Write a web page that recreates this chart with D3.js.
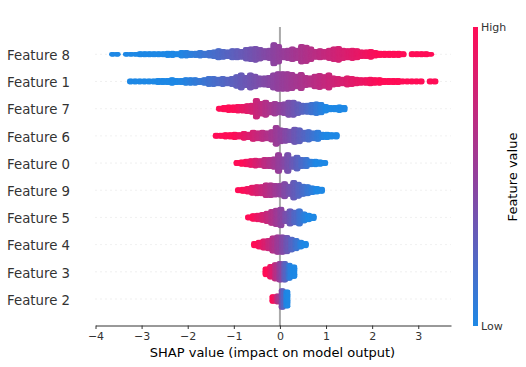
<!DOCTYPE html>
<html>
<head>
<meta charset="utf-8">
<script src="https://cdn.jsdelivr.net/npm/d3@7"></script>
<style>
    html, body { margin: 0; padding: 0; background: #fff; }
    text { font-family: "DejaVu Sans", sans-serif; }
</style>
</head>
<body>
<svg id="chart" width="526" height="367"></svg>
<script>
// Rows from top to bottom
const featureNames = ["Feature 8", "Feature 1", "Feature 7", "Feature 6", "Feature 0",
    "Feature 9", "Feature 5", "Feature 4", "Feature 3", "Feature 2"];

// SHAP value of the first bin in each row, bins are 0.1 wide
const binStart = [-3.63, -3.24, -1.31, -1.38, -0.93, -0.9, -0.68, -0.55, -0.3, -0.15];
const binWidth = 0.1;

// Number of stacked points in each bin
const binCounts = [
    [1,1,0,1,1,1,2,2,2,2,2,2,3,3,2,4,4,3,3,4,3,4,5,7,6,5,7,7,6,9,10,11,9,7,8,17,14,7,8,10,8,14,13,10,6,7,6,8,10,11,8,7,8,7,5,5,6,4,3,3,3,3,3,2,0,2,2,2,2,1],
    [2,2,2,2,2,2,3,3,3,4,3,3,4,4,4,3,4,6,6,5,6,5,6,9,12,8,12,10,7,7,8,12,14,14,14,13,10,13,8,7,10,11,9,12,7,6,5,7,6,5,4,4,5,4,4,3,3,3,3,2,2,2,2,2,0,2,2],
    [2,3,4,4,5,5,6,7,15,10,12,8,10,8,9,12,12,9,7,7,8,9,8,5,3,3,4,3],
    [2,2,3,3,4,3,5,4,7,6,7,6,8,15,11,10,9,12,11,7,8,6,7,4,4,3,3],
    [2,3,4,5,6,5,7,7,8,15,8,15,8,11,7,7,4,4,3,2],
    [2,3,4,6,7,7,10,10,9,9,12,8,14,11,8,7,5,4,3],
    [2,4,5,6,8,11,13,15,8,12,10,12,7,5,3],
    [3,5,7,8,12,14,14,13,10,8,5,3],
    [6,10,13,15,15,12,9],
    [5,6,15,13]
];

// SHAP value where the colour saturates, the sign says which side is high
const colorSpan = [2.2, 2.2, -1, -1, -0.8, -0.8, -0.6, -0.5, -0.25, -0.15];

const xTicks = [-4, -3, -2, -1, 0, 1, 2, 3];

const blue = "#1e88e5";
const purple = "#93409c";
const red = "#ff0d57";

let svg = d3.select("#chart");

let xScale = d3.scaleLinear().domain([-4, 3.71]).range([95.5, 451]);
let yScale = d3.scalePoint().domain(featureNames).range([54.3, 299]);
let colorScale = d3.scaleLinear().domain([0, 0.5, 1]).range([blue, purple, red]).clamp(true);

const plotTop = 27;
const plotBottom = 326;
const dotRadius = 2.4;
const stackStep = 1.2;

// Dotted row guides
svg.append("g").selectAll("line")
    .data(featureNames)
    .enter()
    .append("line")
    .attr("x1", xScale.range()[0])
    .attr("x2", xScale.range()[1])
    .attr("y1", d => yScale(d))
    .attr("y2", d => yScale(d))
    .attr("stroke", "#cccccc")
    .attr("stroke-width", 0.6)
    .attr("stroke-dasharray", "1 4");

// Zero line
svg.append("line")
    .attr("x1", xScale(0))
    .attr("x2", xScale(0))
    .attr("y1", plotTop)
    .attr("y2", plotBottom)
    .attr("stroke", "#aaaaaa")
    .attr("stroke-width", 2);

// Expand the bins to points, each stack is spread a little inside its bin
let points = [];
featureNames.forEach((name, row) => {
    binCounts[row].forEach((count, i) => {
        [-0.25, 0, 0.25].forEach(shift => {
            let value = binStart[row] + (i + shift) * binWidth;
            for (let k = 0; k < count; k++) {
                points.push({
                    name: name,
                    value: value,
                    offset: (k - (count - 1) / 2) * stackStep,
                    level: 0.5 + value / (2 * colorSpan[row])
                });
            }
        });
    });
});

svg.append("g").selectAll("circle")
    .data(points)
    .enter()
    .append("circle")
    .attr("cx", d => xScale(d.value))
    .attr("cy", d => yScale(d.name) + d.offset)
    .attr("r", dotRadius)
    .attr("fill", d => colorScale(d.level));

// Feature names
svg.append("g").selectAll("text")
    .data(featureNames)
    .enter()
    .append("text")
    .attr("x", 70)
    .attr("y", d => yScale(d) + 1)
    .attr("dy", "0.36em")
    .attr("text-anchor", "end")
    .attr("font-size", 13.3)
    .attr("fill", "#333333")
    .text(d => d);

// X axis
let xAxis = d3.axisBottom(xScale)
    .tickValues(xTicks)
    .tickSize(3.5)
    .tickSizeOuter(0)
    .tickFormat(d => d3.format("d")(d).replace("-", "\u2212"));

let axisGroup = svg.append("g")
    .attr("transform", "translate(0," + (plotBottom - 0.5) + ")")
    .call(xAxis);
axisGroup.selectAll("path, line").attr("stroke", "#333333");
axisGroup.selectAll("text")
    .attr("font-size", 11)
    .attr("font-family", '"DejaVu Sans", sans-serif')
    .attr("fill", "#333333");

svg.append("text")
    .attr("x", 272.5)
    .attr("y", 357)
    .attr("text-anchor", "middle")
    .attr("font-size", 13)
    .attr("fill", "#000")
    .text("SHAP value (impact on model output)");

// Colour bar
let gradient = svg.append("defs").append("linearGradient")
    .attr("id", "barGradient")
    .attr("x1", 0).attr("x2", 0).attr("y1", 1).attr("y2", 0);
[0, 0.5, 1].forEach(t => {
    gradient.append("stop")
        .attr("offset", t)
        .attr("stop-color", colorScale(t));
});

svg.append("rect")
    .attr("x", 473)
    .attr("y", plotTop)
    .attr("width", 5)
    .attr("height", plotBottom - plotTop)
    .attr("fill", "url(#barGradient)");

svg.append("text")
    .attr("x", 481).attr("y", 31)
    .attr("font-size", 11).attr("fill", "#333333")
    .text("High");
svg.append("text")
    .attr("x", 481).attr("y", 330)
    .attr("font-size", 11).attr("fill", "#333333")
    .text("Low");
svg.append("text")
    .attr("transform", "translate(517,177) rotate(-90)")
    .attr("text-anchor", "middle")
    .attr("font-size", 13)
    .attr("fill", "#000")
    .text("Feature value");
</script>
</body>
</html>
